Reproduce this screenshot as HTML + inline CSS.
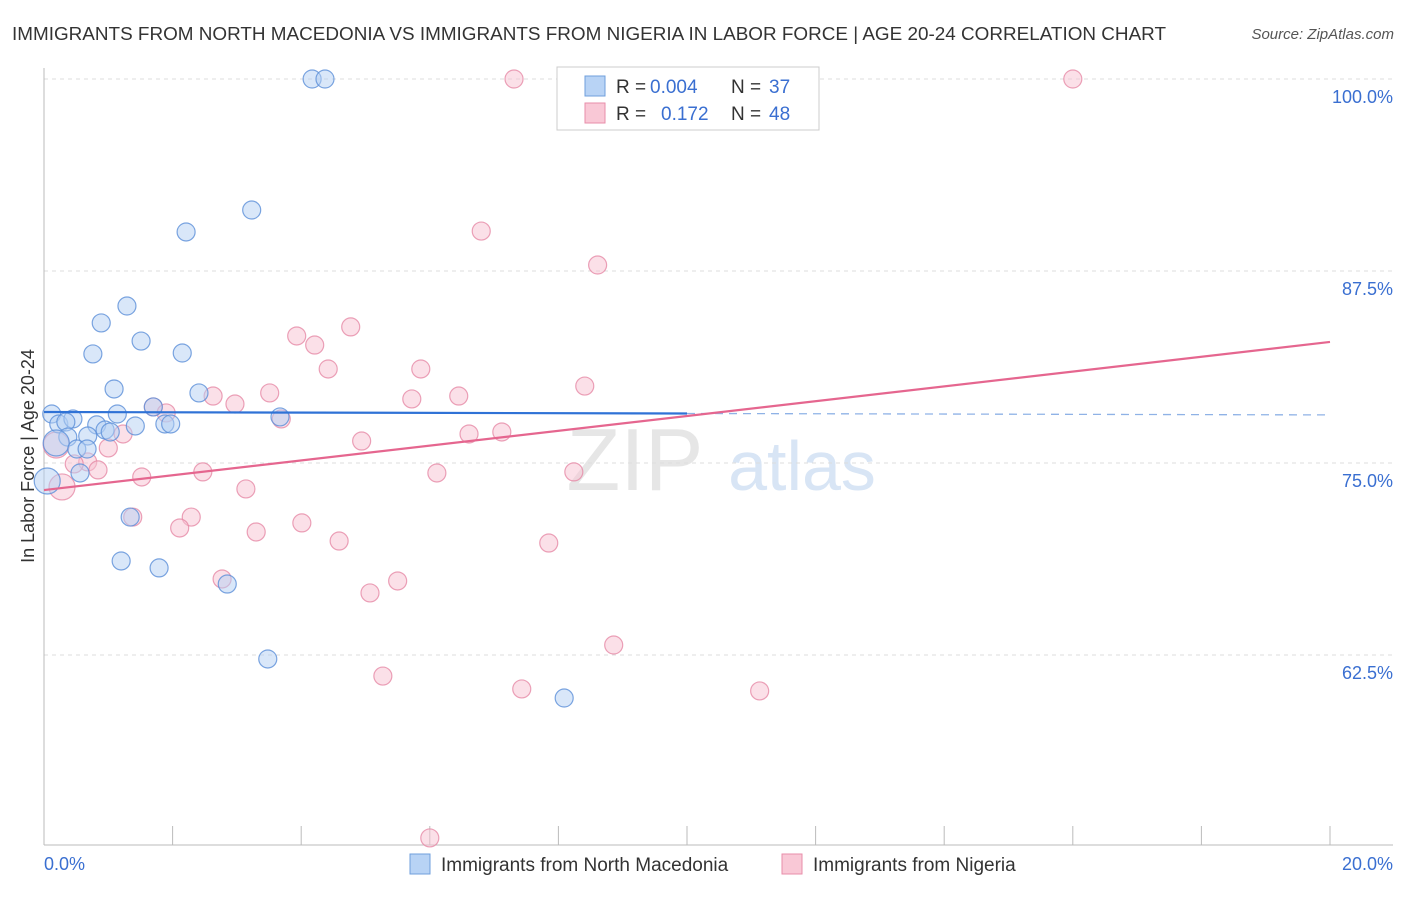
<!DOCTYPE html>
<html><head><meta charset="utf-8"><style>
body{margin:0;background:#fff;font-family:"Liberation Sans",sans-serif}
svg text{font-family:"Liberation Sans",sans-serif}
</style></head><body>
<svg width="1406" height="892" xmlns="http://www.w3.org/2000/svg">
<text x="12" y="40" font-size="18" fill="#333" textLength="1154" lengthAdjust="spacingAndGlyphs">IMMIGRANTS FROM NORTH MACEDONIA VS IMMIGRANTS FROM NIGERIA IN LABOR FORCE | AGE 20-24 CORRELATION CHART</text>
<text x="1394" y="39" font-size="15" fill="#555" font-style="italic" text-anchor="end">Source: ZipAtlas.com</text>
<g><text x="635" y="490" font-size="88" fill="#e6e6e6" font-family="Liberation Serif" text-anchor="middle">ZIP</text><text x="802" y="490" font-size="70" fill="#d8e5f5" text-anchor="middle">atlas</text></g>
<g id="grid"></g>
<g id="axes"></g>
<text transform="translate(34,456) rotate(-90)" font-size="18" fill="#333" text-anchor="middle">In Labor Force | Age 20-24</text>
<g id="pts"></g>
<g id="lines"></g>
<g>
<rect x="557" y="67" width="262" height="63" fill="#fff" stroke="#ccc"/>
<rect x="585" y="76" width="20" height="20" fill="#b8d3f5" stroke="#6f9fdc"/>
<rect x="585" y="103" width="20" height="20" fill="#f9c8d6" stroke="#e88eaa"/>
<text x="616" y="93" font-size="19" fill="#333">R =</text><text x="650" y="93" font-size="19" fill="#3a6fd1">0.004</text>
<text x="731" y="93" font-size="19" fill="#333">N =</text><text x="769" y="93" font-size="19" fill="#3a6fd1">37</text>
<text x="616" y="120" font-size="19" fill="#333">R =</text><text x="661" y="120" font-size="19" fill="#3a6fd1">0.172</text>
<text x="731" y="120" font-size="19" fill="#333">N =</text><text x="769" y="120" font-size="19" fill="#3a6fd1">48</text>
</g>
<g>
<rect x="410" y="854" width="20" height="20" fill="#b8d3f5" stroke="#6f9fdc"/>
<text x="441" y="871" font-size="19" fill="#333">Immigrants from North Macedonia</text>
<rect x="782" y="854" width="20" height="20" fill="#f9c8d6" stroke="#e88eaa"/>
<text x="813" y="871" font-size="19" fill="#333">Immigrants from Nigeria</text>
</g>
</svg>
<script>
const blueX=[4.17,4.37,3.23,2.21,1.29,0.89,1.51,0.76,2.15,1.09,2.41,0.12,1.14,1.70,3.67,0.23,0.45,0.34,0.82,1.42,0.95,1.03,1.88,1.97,0.68,0.37,0.19,0.51,0.67,0.56,0.05,1.34,1.20,1.79,2.85,3.48,8.09];
const blueY=[100,100,91.47,90.04,85.22,84.12,82.94,82.10,82.16,79.82,79.56,78.19,78.19,78.65,78.00,77.54,77.87,77.67,77.48,77.41,77.15,77.02,77.54,77.54,76.76,76.69,76.30,75.91,75.91,74.35,73.83,71.48,68.62,68.17,67.12,62.24,59.70];
const pinkX=[7.31,16.0,6.80,8.61,4.77,3.93,4.21,5.86,4.42,8.41,3.51,2.63,6.45,5.72,2.97,1.70,1.90,3.69,1.23,4.94,6.61,7.12,1.00,0.19,0.68,0.47,0.84,2.47,6.11,8.24,1.52,0.28,3.14,1.38,2.29,2.11,4.01,3.30,4.59,7.85,2.77,5.50,5.07,8.86,5.27,7.43,11.13,6.00];
const pinkY=[100,100,90.10,87.89,83.86,83.27,82.68,81.12,81.12,80.01,79.56,79.36,79.36,79.17,78.84,78.65,78.26,77.87,76.89,76.43,76.89,77.02,75.98,76.17,75.07,74.94,74.55,74.42,74.35,74.42,74.09,73.44,73.31,71.48,71.48,70.77,71.10,70.51,69.92,69.79,67.45,67.32,66.54,63.15,61.13,60.29,60.16,50.59];
const yTicks=[100,87.5,75,62.5];
const yTickLabels=["100.0%","87.5%","75.0%","62.5%"];
const xTicks=[0,2,4,6,8,10,12,14,16,18,20];
const blueTrend=[78.32,78.13];
const pinkTrend=[73.24,82.88];
const NS="http://www.w3.org/2000/svg";
const sx=v=>44+v*64.3, sy=v=>79+(100-v)*15.36;
function mk(t,a,p){const e=document.createElementNS(NS,t);for(const k in a)e.setAttribute(k,a[k]);p.appendChild(e);return e;}
const grid=document.getElementById('grid'),axes=document.getElementById('axes'),pts=document.getElementById('pts'),lines=document.getElementById('lines');
yTicks.forEach((v,i)=>{
 const l=mk('line',{x1:44,x2:1393,y1:sy(v),y2:sy(v),stroke:'#ddd','stroke-dasharray':'4,4'},grid);
 
 
 const t=mk('text',{x:1393,y:sy(v)+24,'font-size':18,fill:'#3a6fd1','text-anchor':'end'},grid);
 t.textContent=yTickLabels[i];
 
 
});
mk('line',{x1:44,x2:44,y1:68,y2:845,stroke:'#bbb'},axes);
mk('line',{x1:44,x2:1393,y1:845,y2:845,stroke:'#bbb'},axes);
xTicks.forEach(v=>{const l=mk('line',{x1:sx(v),x2:sx(v),y1:826,y2:845,stroke:'#bbb'},axes);
 
 });
let t0=mk('text',{x:44,y:870,'font-size':18,fill:'#3a6fd1'},axes);t0.textContent='0.0%';


let t1=mk('text',{x:1393,y:870,'font-size':18,fill:'#3a6fd1','text-anchor':'end'},axes);t1.textContent='20.0%';


function dots(X,Y,fill,stroke,name){X.forEach((x,i)=>{const big=x<0.35&&Y[i]>73&&Y[i]<77;const c=mk('circle',{cx:sx(x),cy:sy(Y[i]),r:big?13:9,fill:fill,'fill-opacity':0.5,stroke:stroke,'stroke-opacity':0.8,'stroke-width':1.2},pts);
 
 });}
dots(pinkX,pinkY,'#f7c2d2','#e68aa6','nigeria-point');
dots(blueX,blueY,'#b3d0f3','#5b8fd8','north-macedonia-point');
const bx=10.0,bm=blueTrend[0]+(blueTrend[1]-blueTrend[0])*bx/20;
let bl=mk('line',{x1:sx(0),y1:sy(blueTrend[0]),x2:sx(bx),y2:sy(bm),stroke:'#2f72d6','stroke-width':2.2},lines);


let bd=mk('line',{x1:sx(bx),y1:sy(bm),x2:sx(20),y2:sy(blueTrend[1]),stroke:'#8fb2e6','stroke-width':1.3,'stroke-dasharray':'8,6'},lines);


let pl=mk('line',{x1:sx(0),y1:sy(pinkTrend[0]),x2:sx(20),y2:sy(pinkTrend[1]),stroke:'#e5668f','stroke-width':2.2},lines);


</script>
</body></html>
